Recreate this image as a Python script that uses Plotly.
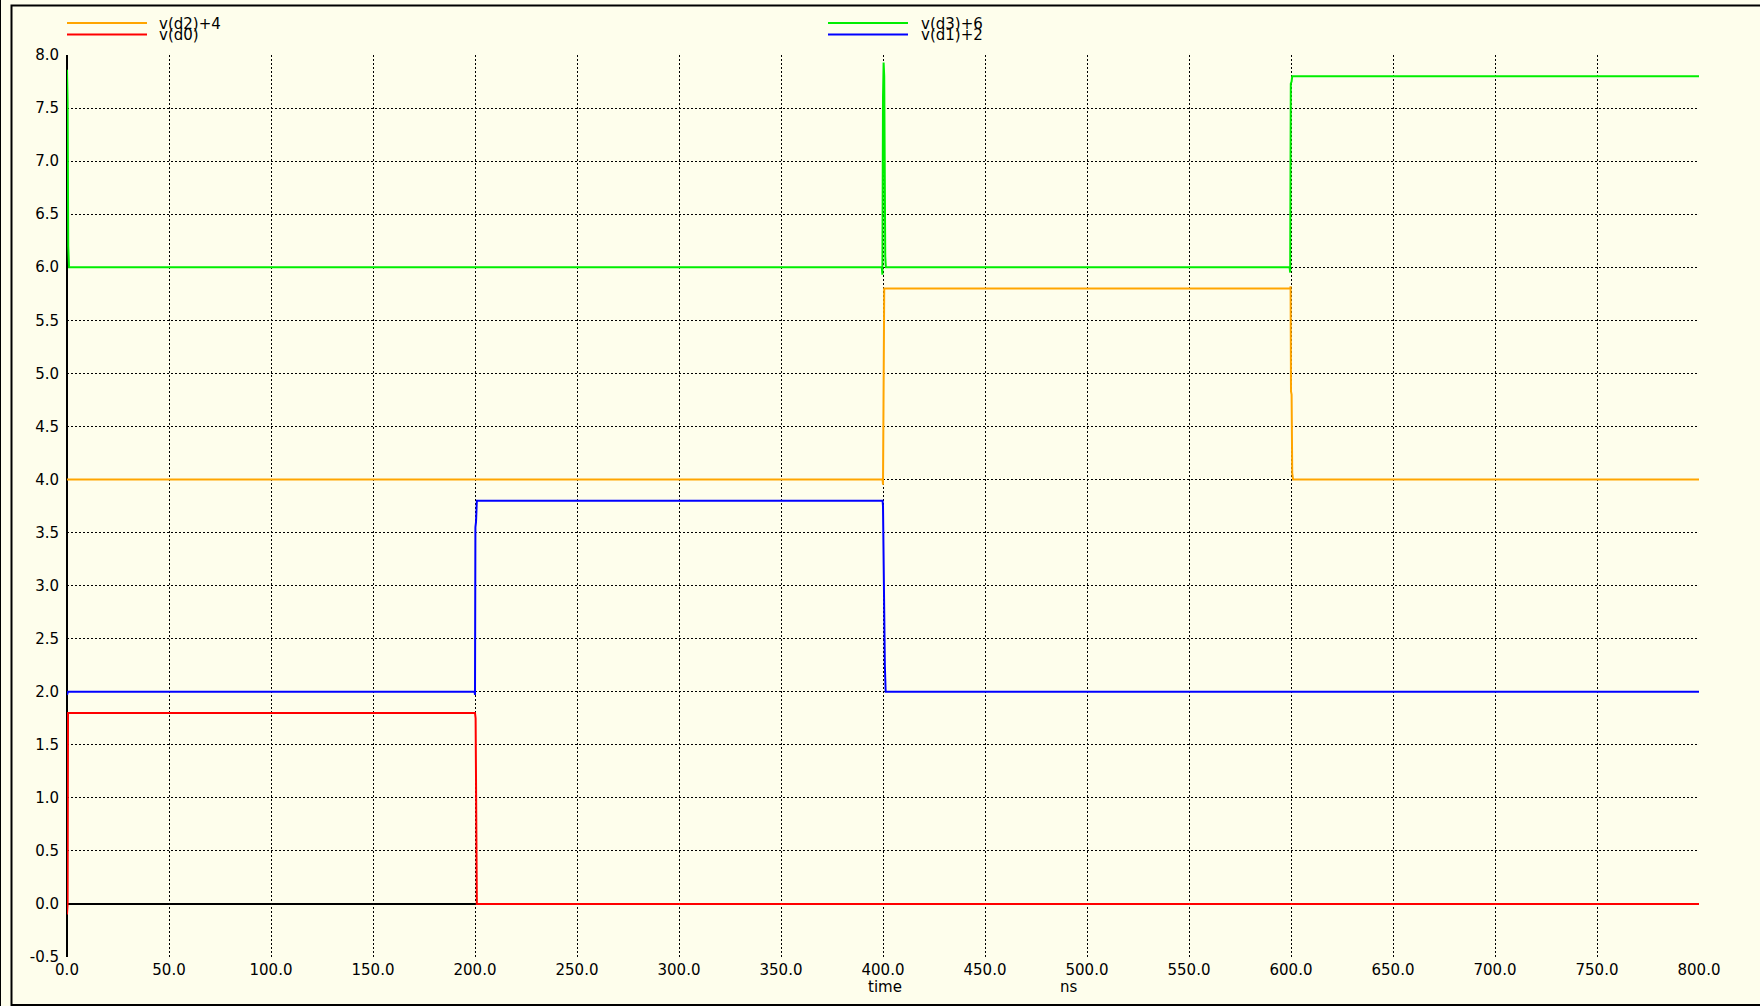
import plotly.graph_objects as go

# ---- data (time in ns, voltage in V incl. offsets) ----
t_d0 = [0.0, 0.3, 0.5, 200.0, 200.3, 200.6, 200.9, 800.0]
v_d0 = [-0.1, 0.0, 1.8, 1.8, 1.75, 0.3, 0.0, 0.0]

t_d1 = [0.0, 0.5, 199.8, 200.0, 200.2, 200.5, 200.9, 399.8, 400.0, 400.3, 400.6, 400.9, 401.3, 800.0]
v_d1 = [1.97, 2.0, 2.0, 1.97, 3.55, 3.6, 3.8, 3.8, 3.75, 3.1, 2.3, 2.25, 2.0, 2.0]

t_d2 = [0.0, 399.8, 400.0, 400.3, 400.6, 599.6, 599.8, 600.0, 600.3, 600.6, 601.0, 800.0]
v_d2 = [4.0, 4.0, 3.95, 5.7, 5.8, 5.8, 5.82, 4.83, 4.8, 4.06, 4.0, 4.0]

t_d3 = [0.0, 0.2, 0.3, 0.6, 1.0, 399.4, 399.7, 400.0, 400.3, 400.6, 400.9, 401.1, 401.4, 599.3, 599.6, 599.9, 600.3, 600.6, 800.0]
v_d3 = [7.86, 7.56, 7.56, 6.2, 6.0, 6.0, 5.93, 7.6, 7.93, 7.8, 6.25, 6.1, 6.0, 6.0, 5.95, 7.73, 7.75, 7.8, 7.8]

x_ticks = [i * 50.0 for i in range(17)]
x_ticklabels = [f"{v:.1f}" for v in x_ticks]
y_ticks = [-0.5 + i * 0.5 for i in range(18)]
y_ticklabels = [f"{v:.1f}" for v in y_ticks]

series = [
    ("v(d0)", t_d0, v_d0, "#ff0000"),
    ("v(d1)+2", t_d1, v_d1, "#0000ff"),
    ("v(d2)+4", t_d2, v_d2, "#ffa500"),
    ("v(d3)+6", t_d3, v_d3, "#00ee00"),
]

BG = "#fefeec"
FONT = "DejaVu Sans"
W, H = 1760, 1006
L, R, T, B = 67, 61, 55, 49
PW, PH = W - L - R, H - T - B


def px(x):
    return (x - L) / PW


def py(y):
    return (H - B - y) / PH


fig = go.Figure()
for name, t, v, c in series:
    fig.add_trace(go.Scatter(x=t, y=v, mode="lines", name=name,
                             line=dict(color=c, width=2), showlegend=False,
                             hoverinfo="skip"))

axis_common = dict(
    showgrid=True, gridcolor="black", gridwidth=1, griddash="2px,2px",
    zeroline=True, zerolinecolor="black", zerolinewidth=2,
    showline=False, ticks="", tickfont=dict(family=FONT, size=15, color="black"),
)
fig.update_xaxes(range=[0, 800], tickvals=x_ticks, ticktext=x_ticklabels,
                 ticklabelstandoff=2, **axis_common)
fig.update_yaxes(range=[-0.5, 8.0], tickvals=y_ticks, ticktext=y_ticklabels,
                 ticklabelstandoff=7, **axis_common)

shapes = []
annotations = []
# legend (manual, two columns)
legend = [
    ("v(d2)+4", "#ffa500", 67, 147, 23, 157),
    ("v(d0)", "#ff0000", 67, 147, 34.5, 157),
    ("v(d3)+6", "#00ee00", 828, 908, 23, 919),
    ("v(d1)+2", "#0000ff", 828, 908, 34.5, 919),
]
for txt, c, x0, x1, yy, tx in legend:
    shapes.append(dict(type="line", xref="paper", yref="paper",
                       x0=px(x0), x1=px(x1), y0=py(yy), y1=py(yy),
                       line=dict(color=c, width=2)))
    annotations.append(dict(text=txt, xref="paper", yref="paper", x=px(tx), y=py(yy + 0.5),
                            xanchor="left", yanchor="middle", showarrow=False,
                            font=dict(family=FONT, size=15, color="black")))

# axis labels
annotations.append(dict(text="time", xref="paper", yref="paper", x=px(885), y=py(987),
                        xanchor="center", yanchor="middle", showarrow=False,
                        font=dict(family=FONT, size=15, color="black")))
annotations.append(dict(text="ns", xref="paper", yref="paper", x=px(1069), y=py(987),
                        xanchor="center", yanchor="middle", showarrow=False,
                        font=dict(family=FONT, size=15, color="black")))

# frame lines
shapes.append(dict(type="line", xref="paper", yref="paper", x0=px(0.5), x1=px(0.5),
                   y0=py(-5), y1=py(1010), line=dict(color="black", width=1)))
shapes.append(dict(type="rect", xref="paper", yref="paper", x0=px(11.5), x1=px(1780),
                   y0=py(1005), y1=py(5.5), line=dict(color="black", width=2),
                   fillcolor="rgba(0,0,0,0)", layer="below"))

fig.update_layout(
    width=W, height=H, autosize=False,
    margin=dict(l=L, r=R, t=T, b=B, pad=0),
    paper_bgcolor=BG, plot_bgcolor=BG,
    shapes=shapes, annotations=annotations,
    showlegend=False,
    font=dict(family=FONT, size=15, color="black"),
)

fig.write_html("out.html", config={"displayModeBar": False},
               post_script="document.body.style.margin='0';document.body.style.overflow='hidden';")
